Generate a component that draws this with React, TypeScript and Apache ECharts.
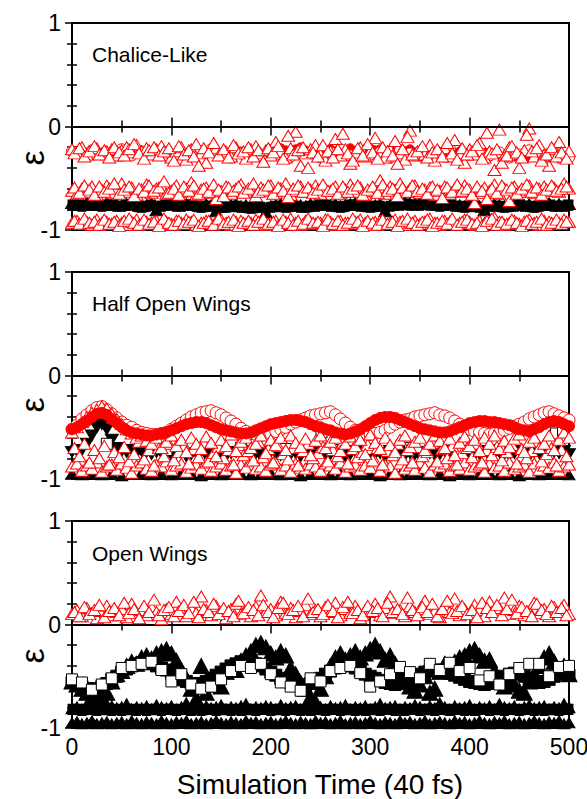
import React, { useEffect, useRef } from "react";
import * as echarts from "echarts";

// sampling times (40 fs units)
const times: number[] = Array.from({ length: 101 }, (_, i) => i * 5);
const timesHalf: number[] = Array.from({ length: 100 }, (_, i) => 2.5 + i * 5);
const times10: number[] = Array.from({ length: 51 }, (_, i) => i * 10);

const panelTitles = ["Chalice-Like", "Half Open Wings", "Open Wings"];
const xTicks = [0, 100, 200, 300, 400, 500];
const yTicks = [-1, 0, 1];

// ---------- Panel 1: Chalice-Like ----------
const p1UpperTri = [
  -0.22,-0.25,-0.20,-0.27,-0.23,-0.21,-0.26,-0.24,-0.22,-0.28,
  -0.23,-0.20,-0.25,-0.18,-0.24,-0.21,-0.27,-0.22,-0.19,-0.25,
  -0.30,-0.24,-0.20,-0.32,-0.22,-0.17,-0.26,-0.35,-0.23,-0.21,
  -0.27,-0.24,-0.29,-0.20,-0.25,-0.31,-0.22,-0.19,-0.26,-0.23,
  -0.28,-0.15,-0.24,-0.30,-0.21,-0.05,-0.38,-0.26,-0.22,-0.18,
  -0.27,-0.33,-0.24,-0.12,-0.28,-0.22,-0.36,-0.25,-0.20,-0.29,
  -0.24,-0.11,-0.27,-0.30,-0.22,-0.14,-0.26,-0.32,-0.04,-0.28,
  -0.23,-0.27,-0.18,-0.33,-0.25,-0.21,-0.29,-0.13,-0.26,-0.35,
  -0.22,-0.27,-0.16,-0.30,-0.24,-0.42,-0.03,-0.28,-0.20,-0.26,
  -0.40,-0.23,-0.02,-0.29,-0.18,-0.27,-0.38,-0.22,-0.15,-0.30,-0.24,
];
const p1UpperTri2 = [
  -0.26,-0.21,-0.29,-0.24,-0.19,-0.27,-0.23,-0.30,-0.20,-0.25,
  -0.28,-0.22,-0.17,-0.26,-0.31,-0.23,-0.20,-0.28,-0.24,-0.21,
  -0.33,-0.19,-0.27,-0.23,-0.29,-0.38,-0.21,-0.25,-0.16,-0.28,
  -0.22,-0.30,-0.18,-0.26,-0.24,-0.20,-0.29,-0.23,-0.34,-0.21,
  -0.25,-0.19,-0.31,-0.09,-0.27,-0.23,-0.20,-0.40,-0.25,-0.29,
  -0.18,-0.24,-0.30,-0.22,-0.07,-0.26,-0.33,-0.21,-0.28,-0.17,
  -0.25,-0.31,-0.20,-0.24,-0.28,-0.36,-0.22,-0.10,-0.27,-0.24,
  -0.19,-0.30,-0.25,-0.22,-0.29,-0.16,-0.26,-0.32,-0.21,-0.27,
  -0.24,-0.18,-0.31,-0.06,-0.26,-0.22,-0.35,-0.28,-0.19,-0.25,
  -0.30,-0.08,-0.24,-0.21,-0.33,-0.27,-0.20,-0.29,-0.25,-0.31,
];
const p1CircOpen = [
  -0.24,-0.26,-0.23,-0.27,-0.25,-0.22,-0.28,-0.24,-0.26,-0.23,
  -0.27,-0.25,-0.29,-0.24,-0.22,-0.27,-0.30,-0.26,-0.25,-0.28,
  -0.24,-0.27,-0.29,-0.23,-0.26,-0.30,-0.25,-0.22,-0.28,-0.24,
  -0.27,-0.25,-0.30,-0.23,-0.26,-0.28,-0.24,-0.27,-0.21,-0.29,
  -0.26,-0.24,-0.28,-0.25,-0.30,-0.27,-0.23,-0.26,-0.29,-0.27,-0.30,
];
// filled red circles, from t = 200 on
const p1CircFilled = [
  -0.22,-0.24,-0.21,-0.23,-0.25,-0.22,-0.20,-0.23,-0.24,-0.21,
  -0.23,-0.25,-0.22,-0.24,-0.26,-0.23,-0.21,-0.24,-0.25,-0.22,
  -0.21,-0.23,-0.22,-0.24,-0.25,-0.23,-0.26,-0.24,-0.22,-0.25,
  -0.27,-0.25,-0.24,-0.26,-0.28,-0.25,-0.27,-0.26,-0.24,-0.27,
  -0.28,-0.26,-0.27,-0.25,-0.29,-0.27,-0.26,-0.28,-0.27,-0.29,
  -0.28,-0.26,-0.29,-0.27,-0.28,-0.30,-0.28,-0.29,-0.27,-0.30,-0.29,
];
const p1MidTri = [
  -0.62,-0.65,-0.60,-0.63,-0.58,-0.66,-0.61,-0.57,-0.64,-0.60,
  -0.55,-0.63,-0.59,-0.66,-0.61,-0.56,-0.64,-0.60,-0.58,-0.65,
  -0.62,-0.57,-0.63,-0.60,-0.54,-0.66,-0.61,-0.59,-0.64,-0.70,
  -0.62,-0.58,-0.65,-0.60,-0.56,-0.63,-0.61,-0.67,-0.59,-0.62,
  -0.57,-0.64,-0.60,-0.55,-0.66,-0.62,-0.58,-0.63,-0.61,-0.57,
  -0.65,-0.60,-0.62,-0.58,-0.64,-0.61,-0.56,-0.63,-0.59,-0.66,
  -0.62,-0.60,-0.52,-0.65,-0.58,-0.61,-0.55,-0.63,-0.60,-0.57,
  -0.64,-0.61,-0.59,-0.66,-0.62,-0.58,-0.65,-0.60,-0.63,-0.57,
  -0.61,-0.74,-0.64,-0.59,-0.62,-0.56,-0.65,-0.60,-0.72,-0.58,
  -0.63,-0.61,-0.57,-0.64,-0.60,-0.58,-0.62,-0.59,-0.63,-0.55,-0.60,
];
const p1MidTri2 = [
  -0.59,-0.64,-0.57,-0.61,-0.66,-0.58,-0.63,-0.60,-0.55,-0.65,
  -0.61,-0.58,-0.67,-0.60,-0.63,-0.57,-0.62,-0.59,-0.53,-0.64,
  -0.60,-0.66,-0.58,-0.62,-0.57,-0.65,-0.60,-0.63,-0.56,-0.61,
  -0.67,-0.59,-0.62,-0.58,-0.64,-0.60,-0.55,-0.63,-0.61,-0.57,
  -0.65,-0.59,-0.62,-0.68,-0.60,-0.57,-0.63,-0.59,-0.64,-0.61,
  -0.56,-0.62,-0.60,-0.65,-0.58,-0.63,-0.60,-0.57,-0.66,-0.61,
  -0.58,-0.64,-0.56,-0.62,-0.60,-0.67,-0.59,-0.63,-0.57,-0.62,
  -0.60,-0.65,-0.58,-0.61,-0.69,-0.59,-0.63,-0.56,-0.62,-0.60,
  -0.66,-0.58,-0.62,-0.70,-0.60,-0.64,-0.57,-0.61,-0.59,-0.65,
  -0.60,-0.56,-0.63,-0.59,-0.66,-0.61,-0.57,-0.62,-0.60,-0.58,
];
const p1Black = [
  -0.74,-0.75,-0.76,-0.74,-0.75,-0.76,-0.75,-0.74,-0.76,-0.75,
  -0.76,-0.75,-0.74,-0.75,-0.77,-0.76,-0.75,-0.81,-0.76,-0.75,
  -0.74,-0.75,-0.76,-0.75,-0.74,-0.76,-0.77,-0.75,-0.76,-0.82,
  -0.76,-0.77,-0.76,-0.75,-0.77,-0.76,-0.78,-0.77,-0.76,-0.83,
  -0.77,-0.76,-0.75,-0.77,-0.76,-0.75,-0.76,-0.77,-0.75,-0.76,
  -0.75,-0.74,-0.76,-0.75,-0.77,-0.76,-0.75,-0.74,-0.76,-0.75,
  -0.77,-0.76,-0.75,-0.82,-0.76,-0.74,-0.75,-0.73,-0.74,-0.75,
  -0.74,-0.73,-0.75,-0.74,-0.76,-0.75,-0.74,-0.75,-0.76,-0.77,
  -0.75,-0.76,-0.77,-0.81,-0.76,-0.75,-0.76,-0.77,-0.76,-0.75,
  -0.74,-0.76,-0.75,-0.77,-0.76,-0.75,-0.74,-0.76,-0.75,-0.76,-0.75,
];
const p1BlackSq = [
  -0.76,-0.76,-0.77,-0.76,-0.75,-0.76,-0.77,-0.76,-0.76,-0.77,
  -0.77,-0.76,-0.76,-0.77,-0.78,-0.77,-0.76,-0.77,-0.77,-0.76,
  -0.76,-0.77,-0.77,-0.76,-0.76,-0.77,-0.78,-0.77,-0.77,-0.78,
  -0.78,-0.78,-0.77,-0.77,-0.78,-0.78,-0.79,-0.78,-0.78,-0.79,
  -0.78,-0.77,-0.77,-0.78,-0.77,-0.77,-0.78,-0.78,-0.77,-0.77,
  -0.76,-0.76,-0.77,-0.77,-0.78,-0.77,-0.76,-0.76,-0.77,-0.77,
  -0.78,-0.77,-0.77,-0.78,-0.77,-0.76,-0.76,-0.75,-0.76,-0.76,
  -0.76,-0.75,-0.76,-0.76,-0.77,-0.76,-0.76,-0.77,-0.77,-0.78,
  -0.77,-0.77,-0.78,-0.79,-0.77,-0.77,-0.77,-0.78,-0.77,-0.77,
  -0.76,-0.77,-0.77,-0.78,-0.77,-0.76,-0.76,-0.77,-0.77,-0.77,-0.76,
];
const p1LowTri = [
  -0.93,-0.91,-0.94,-0.92,-0.95,-0.90,-0.93,-0.92,-0.94,-0.91,
  -0.93,-0.95,-0.92,-0.90,-0.94,-0.92,-0.93,-0.91,-0.95,-0.92,
  -0.94,-0.91,-0.93,-0.90,-0.92,-0.95,-0.93,-0.91,-0.94,-0.92,
  -0.90,-0.93,-0.95,-0.92,-0.91,-0.94,-0.93,-0.90,-0.92,-0.95,
  -0.93,-0.91,-0.94,-0.92,-0.89,-0.93,-0.95,-0.91,-0.92,-0.94,
  -0.93,-0.90,-0.92,-0.95,-0.91,-0.93,-0.94,-0.92,-0.90,-0.93,
  -0.95,-0.92,-0.91,-0.94,-0.93,-0.90,-0.92,-0.95,-0.93,-0.91,
  -0.94,-0.92,-0.89,-0.93,-0.95,-0.91,-0.92,-0.94,-0.93,-0.90,
  -0.92,-0.95,-0.91,-0.93,-0.94,-0.88,-0.92,-0.95,-0.93,-0.91,
  -0.94,-0.92,-0.90,-0.93,-0.95,-0.91,-0.92,-0.94,-0.93,-0.90,-0.92,
];
const p1LowTri2 = [
  -0.91,-0.94,-0.89,-0.93,-0.92,-0.95,-0.90,-0.94,-0.92,-0.96,
  -0.91,-0.89,-0.93,-0.95,-0.90,-0.94,-0.92,-0.96,-0.89,-0.93,
  -0.95,-0.91,-0.94,-0.92,-0.90,-0.96,-0.93,-0.91,-0.95,-0.89,
  -0.94,-0.92,-0.90,-0.96,-0.93,-0.91,-0.95,-0.92,-0.89,-0.94,
  -0.92,-0.96,-0.90,-0.93,-0.95,-0.91,-0.94,-0.89,-0.93,-0.92,
  -0.96,-0.90,-0.94,-0.91,-0.95,-0.93,-0.89,-0.92,-0.96,-0.91,
  -0.93,-0.95,-0.90,-0.94,-0.92,-0.96,-0.91,-0.89,-0.93,-0.95,
  -0.92,-0.90,-0.96,-0.93,-0.91,-0.94,-0.89,-0.95,-0.92,-0.90,
  -0.94,-0.93,-0.96,-0.91,-0.89,-0.95,-0.92,-0.94,-0.90,-0.93,
  -0.96,-0.91,-0.94,-0.92,-0.89,-0.95,-0.93,-0.90,-0.94,-0.92,
];

// ---------- Panel 2: Half Open Wings ----------
const p2CircOpen = [
  -0.52,-0.48,-0.42,-0.38,-0.34,-0.31,-0.30,-0.33,-0.37,-0.41,
  -0.45,-0.48,-0.50,-0.53,-0.55,-0.56,-0.57,-0.57,-0.56,-0.55,
  -0.52,-0.49,-0.46,-0.43,-0.40,-0.38,-0.36,-0.35,-0.34,-0.36,
  -0.38,-0.41,-0.44,-0.47,-0.51,-0.54,-0.56,-0.57,-0.58,-0.57,
  -0.56,-0.54,-0.52,-0.50,-0.47,-0.45,-0.43,-0.41,-0.39,-0.38,
  -0.37,-0.36,-0.35,-0.38,-0.42,-0.46,-0.50,-0.53,-0.55,-0.56,
  -0.57,-0.56,-0.55,-0.53,-0.50,-0.47,-0.45,-0.43,-0.42,-0.40,
  -0.39,-0.38,-0.37,-0.36,-0.38,-0.39,-0.41,-0.44,-0.47,-0.50,
  -0.52,-0.54,-0.55,-0.56,-0.57,-0.56,-0.55,-0.53,-0.51,-0.49,
  -0.47,-0.45,-0.42,-0.40,-0.38,-0.36,-0.35,-0.37,-0.39,-0.41,-0.43,
];
const p2CircFilled = [
  -0.52,-0.50,-0.47,-0.44,-0.40,-0.37,-0.36,-0.38,-0.42,-0.46,
  -0.50,-0.53,-0.55,-0.56,-0.57,-0.58,-0.58,-0.57,-0.56,-0.55,
  -0.53,-0.51,-0.49,-0.47,-0.46,-0.45,-0.45,-0.46,-0.48,-0.50,
  -0.52,-0.53,-0.54,-0.55,-0.56,-0.56,-0.55,-0.53,-0.51,-0.49,
  -0.47,-0.46,-0.45,-0.44,-0.43,-0.43,-0.44,-0.45,-0.47,-0.49,
  -0.50,-0.52,-0.53,-0.55,-0.56,-0.57,-0.56,-0.54,-0.52,-0.49,
  -0.46,-0.43,-0.41,-0.40,-0.40,-0.41,-0.43,-0.45,-0.47,-0.49,
  -0.51,-0.52,-0.53,-0.54,-0.55,-0.55,-0.54,-0.52,-0.50,-0.48,
  -0.46,-0.45,-0.44,-0.44,-0.45,-0.45,-0.46,-0.47,-0.48,-0.50,
  -0.52,-0.53,-0.54,-0.52,-0.50,-0.47,-0.45,-0.44,-0.45,-0.47,-0.49,
];
const p2UpperTri = [
  -0.55,-0.50,-0.45,-0.40,-0.36,-0.33,-0.30,-0.32,-0.37,-0.42,
  -0.47,-0.52,-0.56,-0.60,-0.58,-0.63,-0.66,-0.60,-0.70,-0.64,
  -0.58,-0.68,-0.62,-0.74,-0.60,-0.66,-0.71,-0.59,-0.65,-0.78,
  -0.62,-0.68,-0.57,-0.73,-0.64,-0.60,-0.70,-0.66,-0.58,-0.75,
  -0.62,-0.67,-0.60,-0.72,-0.58,-0.65,-0.69,-0.61,-0.77,-0.63,
  -0.58,-0.70,-0.64,-0.60,-0.73,-0.66,-0.59,-0.68,-0.62,-0.76,
  -0.57,-0.65,-0.71,-0.60,-0.67,-0.74,-0.62,-0.58,-0.69,-0.64,
  -0.60,-0.72,-0.66,-0.58,-0.63,-0.70,-0.61,-0.77,-0.65,-0.59,
  -0.68,-0.62,-0.73,-0.60,-0.66,-0.58,-0.71,-0.63,-0.69,-0.61,
  -0.57,-0.74,-0.64,-0.60,-0.70,-0.66,-0.58,-0.72,-0.62,-0.55,-0.60,
];
const p2MidTri2 = [
  -0.70,-0.78,-0.66,-0.84,-0.72,-0.80,-0.68,-0.86,-0.74,-0.79,
  -0.69,-0.83,-0.76,-0.64,-0.81,-0.72,-0.87,-0.70,-0.78,-0.66,
  -0.82,-0.74,-0.68,-0.85,-0.71,-0.79,-0.65,-0.83,-0.75,-0.69,
  -0.80,-0.72,-0.86,-0.67,-0.77,-0.73,-0.82,-0.64,-0.79,-0.71,
  -0.84,-0.68,-0.76,-0.81,-0.70,-0.87,-0.73,-0.66,-0.80,-0.75,
  -0.69,-0.83,-0.72,-0.78,-0.65,-0.85,-0.71,-0.79,-0.74,-0.67,
  -0.82,-0.70,-0.86,-0.73,-0.77,-0.66,-0.81,-0.72,-0.84,-0.69,
  -0.78,-0.74,-0.65,-0.83,-0.71,-0.80,-0.68,-0.86,-0.75,-0.70,
  -0.79,-0.66,-0.84,-0.72,-0.77,-0.69,-0.82,-0.74,-0.67,-0.85,
  -0.71,-0.80,-0.73,-0.64,-0.83,-0.76,-0.70,-0.87,-0.72,-0.78,
];
const p2Black = [
  -0.74,-0.73,-0.72,-0.66,-0.58,-0.50,-0.47,-0.52,-0.62,-0.70,
  -0.73,-0.74,-0.72,-0.75,-0.73,-0.74,-0.76,-0.74,-0.75,-0.73,
  -0.77,-0.75,-0.74,-0.78,-0.76,-0.75,-0.73,-0.77,-0.75,-0.74,
  -0.76,-0.78,-0.75,-0.74,-0.77,-0.76,-0.73,-0.75,-0.78,-0.76,
  -0.74,-0.75,-0.77,-0.73,-0.76,-0.75,-0.78,-0.74,-0.76,-0.75,
  -0.73,-0.77,-0.76,-0.74,-0.75,-0.78,-0.76,-0.73,-0.75,-0.77,
  -0.74,-0.76,-0.75,-0.78,-0.73,-0.76,-0.74,-0.77,-0.75,-0.76,
  -0.78,-0.74,-0.75,-0.77,-0.76,-0.73,-0.75,-0.78,-0.76,-0.74,
  -0.75,-0.77,-0.76,-0.73,-0.78,-0.75,-0.74,-0.76,-0.77,-0.75,
  -0.73,-0.76,-0.78,-0.74,-0.75,-0.77,-0.76,-0.74,-0.75,-0.73,-0.76,
];
const p2BlackLow = [
  -0.95,-0.96,-0.94,-0.96,-0.95,-0.97,-0.95,-0.94,-0.96,-0.95,
  -0.96,-0.94,-0.95,-0.97,-0.95,-0.96,-0.94,-0.95,-0.96,-0.95,
  -0.94,-0.96,-0.95,-0.97,-0.95,-0.94,-0.96,-0.95,-0.96,-0.94,
  -0.95,-0.97,-0.95,-0.96,-0.94,-0.95,-0.96,-0.95,-0.97,-0.94,
  -0.96,-0.95,-0.94,-0.96,-0.95,-0.97,-0.95,-0.96,-0.94,-0.95,-0.96,
];
const p2LowTri = [
  -0.88,-0.85,-0.92,-0.87,-0.90,-0.84,-0.93,-0.88,-0.86,-0.91,
  -0.85,-0.89,-0.94,-0.87,-0.84,-0.90,-0.92,-0.86,-0.88,-0.83,
  -0.91,-0.87,-0.85,-0.93,-0.89,-0.86,-0.90,-0.84,-0.92,-0.88,
  -0.85,-0.91,-0.87,-0.94,-0.86,-0.89,-0.83,-0.90,-0.88,-0.92,
  -0.86,-0.84,-0.91,-0.87,-0.93,-0.85,-0.89,-0.90,-0.86,-0.88,
  -0.92,-0.85,-0.87,-0.90,-0.84,-0.93,-0.88,-0.86,-0.91,-0.87,
  -0.89,-0.83,-0.92,-0.86,-0.88,-0.94,-0.85,-0.90,-0.87,-0.91,
  -0.84,-0.89,-0.93,-0.86,-0.88,-0.85,-0.92,-0.87,-0.90,-0.84,
  -0.91,-0.88,-0.86,-0.93,-0.85,-0.89,-0.87,-0.92,-0.84,-0.90,
  -0.88,-0.86,-0.93,-0.85,-0.91,-0.87,-0.89,-0.84,-0.92,-0.88,-0.86,
];
const p2SqTimes = [35, 95, 170, 215, 251, 262, 300, 340, 388, 430, 487, 494];
const p2SqValues = [-0.66, -0.72, -0.70, -0.71, -0.55, -0.72, -0.71, -0.70, -0.73, -0.72, -0.56, -0.54];

// ---------- Panel 3: Open Wings ----------
const p3RedTri = [
  0.10,0.14,0.08,0.16,0.11,0.06,0.13,0.18,0.09,0.12,
  0.15,0.07,0.20,0.11,0.14,0.09,0.17,0.12,0.05,0.15,
  0.10,0.22,0.13,0.08,0.16,0.11,0.27,0.14,0.09,0.18,
  0.12,0.06,0.15,0.20,0.10,0.13,0.08,0.17,0.28,0.12,
  0.15,0.09,0.22,0.11,0.16,0.07,0.13,0.19,0.10,0.14,
  0.08,0.17,0.12,0.21,0.09,0.15,0.11,0.18,0.06,0.14,
  0.12,0.20,0.09,0.16,0.27,0.11,0.14,0.08,0.18,0.12,
  0.15,0.23,0.10,0.13,0.07,0.17,0.12,0.25,0.09,0.15,
  0.11,0.19,0.14,0.08,0.22,0.12,0.16,0.26,0.10,0.14,
  0.18,0.09,0.13,0.21,0.11,0.15,0.08,0.17,0.12,0.19,0.10,
];
const p3RedTri2 = [
  0.12,0.08,0.17,0.10,0.14,0.19,0.07,0.13,0.16,0.09,
  0.21,0.11,0.15,0.06,0.18,0.12,0.24,0.09,0.14,0.17,
  0.08,0.13,0.19,0.11,0.22,0.07,0.15,0.12,0.20,0.10,
  0.16,0.13,0.08,0.23,0.11,0.17,0.14,0.09,0.19,0.12,
  0.07,0.16,0.21,0.10,0.14,0.18,0.08,0.25,0.12,0.15,
  0.10,0.19,0.13,0.07,0.17,0.22,0.11,0.14,0.09,0.18,
  0.13,0.16,0.08,0.21,0.12,0.15,0.10,0.26,0.14,0.09,
  0.17,0.12,0.20,0.08,0.15,0.23,0.11,0.13,0.18,0.10,
  0.14,0.07,0.21,0.16,0.12,0.19,0.09,0.15,0.24,0.11,
  0.17,0.13,0.08,0.20,0.14,0.10,0.18,0.12,0.16,0.09,
];
const p3TriUp = [
  -0.55,-0.58,-0.62,-0.66,-0.70,-0.68,-0.70,-0.66,-0.55,-0.48,
  -0.45,-0.40,-0.36,-0.38,-0.32,-0.30,-0.33,-0.28,-0.26,-0.24,
  -0.28,-0.35,-0.44,-0.52,-0.62,-0.72,-0.40,-0.66,-0.58,-0.52,
  -0.60,-0.46,-0.40,-0.44,-0.35,-0.30,-0.26,-0.20,-0.18,-0.22,
  -0.28,-0.32,-0.26,-0.30,-0.42,-0.48,-0.56,-0.62,-0.70,-0.75,
  -0.62,-0.50,-0.40,-0.32,-0.28,-0.34,-0.30,-0.26,-0.32,-0.28,
  -0.24,-0.20,-0.26,-0.34,-0.30,-0.38,-0.46,-0.55,-0.60,-0.64,
  -0.58,-0.50,-0.66,-0.62,-0.46,-0.38,-0.42,-0.36,-0.32,-0.30,
  -0.26,-0.24,-0.30,-0.35,-0.34,-0.45,-0.55,-0.60,-0.52,-0.58,
  -0.64,-0.66,-0.55,-0.48,-0.40,-0.32,-0.28,-0.36,-0.44,-0.40,-0.48,
];
const p3SqFilled = [
  -0.56,-0.58,-0.60,-0.62,-0.63,-0.62,-0.60,-0.57,-0.53,-0.50,
  -0.46,-0.43,-0.40,-0.38,-0.37,-0.36,-0.38,-0.40,-0.42,-0.44,
  -0.47,-0.50,-0.53,-0.55,-0.57,-0.58,-0.57,-0.55,-0.52,-0.49,
  -0.46,-0.43,-0.40,-0.38,-0.36,-0.35,-0.36,-0.38,-0.40,-0.43,
  -0.46,-0.49,-0.52,-0.54,-0.56,-0.57,-0.58,-0.58,-0.57,-0.55,
  -0.52,-0.48,-0.45,-0.42,-0.40,-0.39,-0.40,-0.42,-0.45,-0.48,
  -0.50,-0.52,-0.54,-0.56,-0.57,-0.58,-0.57,-0.55,-0.53,-0.50,
  -0.48,-0.46,-0.45,-0.44,-0.44,-0.45,-0.47,-0.49,-0.51,-0.53,
  -0.55,-0.56,-0.57,-0.58,-0.57,-0.55,-0.52,-0.50,-0.48,-0.47,
  -0.48,-0.50,-0.53,-0.55,-0.56,-0.55,-0.53,-0.50,-0.48,-0.47,-0.49,
];
const p3SqOpen = [
  -0.53,-0.56,-0.63,-0.58,-0.52,-0.42,-0.40,-0.38,-0.36,-0.44,
  -0.55,-0.48,-0.58,-0.62,-0.60,-0.53,-0.45,-0.40,-0.42,-0.38,
  -0.48,-0.56,-0.60,-0.64,-0.52,-0.55,-0.45,-0.42,-0.40,-0.47,
  -0.60,-0.55,-0.48,-0.41,-0.46,-0.52,-0.38,-0.44,-0.37,-0.45,
  -0.42,-0.54,-0.50,-0.58,-0.48,-0.42,-0.38,-0.38,-0.50,-0.41,-0.40,
];
const p3BandA = [
  -0.81,-0.80,-0.82,-0.79,-0.81,-0.78,-0.82,-0.80,-0.79,-0.81,
  -0.80,-0.77,-0.82,-0.80,-0.81,-0.79,-0.82,-0.78,-0.80,-0.81,
  -0.79,-0.82,-0.80,-0.76,-0.81,-0.80,-0.82,-0.79,-0.81,-0.80,
  -0.78,-0.82,-0.80,-0.81,-0.79,-0.77,-0.82,-0.80,-0.81,-0.79,
  -0.80,-0.82,-0.78,-0.81,-0.80,-0.79,-0.82,-0.80,-0.76,-0.81,
  -0.80,-0.82,-0.79,-0.81,-0.80,-0.78,-0.82,-0.80,-0.81,-0.79,
  -0.82,-0.80,-0.77,-0.81,-0.80,-0.79,-0.82,-0.80,-0.81,-0.78,
  -0.80,-0.82,-0.79,-0.81,-0.76,-0.80,-0.82,-0.79,-0.81,-0.80,
  -0.78,-0.82,-0.80,-0.81,-0.79,-0.82,-0.77,-0.80,-0.81,-0.79,
  -0.82,-0.80,-0.78,-0.81,-0.80,-0.79,-0.82,-0.80,-0.81,-0.77,-0.80,
];
const p3BandASq = [
  -0.82,-0.82,-0.83,-0.82,-0.82,-0.83,-0.82,-0.82,-0.83,-0.82,
  -0.83,-0.82,-0.82,-0.83,-0.82,-0.83,-0.82,-0.82,-0.83,-0.82,
  -0.82,-0.83,-0.82,-0.82,-0.83,-0.82,-0.83,-0.82,-0.82,-0.83,
  -0.82,-0.82,-0.83,-0.82,-0.83,-0.82,-0.82,-0.83,-0.82,-0.82,
  -0.83,-0.82,-0.82,-0.83,-0.82,-0.82,-0.83,-0.82,-0.83,-0.82,
  -0.82,-0.83,-0.82,-0.82,-0.83,-0.82,-0.82,-0.83,-0.82,-0.83,
  -0.82,-0.82,-0.83,-0.82,-0.82,-0.83,-0.82,-0.83,-0.82,-0.82,
  -0.83,-0.82,-0.82,-0.83,-0.82,-0.82,-0.83,-0.82,-0.82,-0.83,
  -0.82,-0.83,-0.82,-0.82,-0.83,-0.82,-0.82,-0.83,-0.82,-0.82,
  -0.83,-0.82,-0.82,-0.83,-0.82,-0.83,-0.82,-0.82,-0.83,-0.82,-0.82,
];
const p3BandB = [
  -0.95,-0.94,-0.96,-0.95,-0.93,-0.96,-0.95,-0.94,-0.96,-0.95,
  -0.94,-0.96,-0.93,-0.95,-0.96,-0.94,-0.95,-0.96,-0.93,-0.95,
  -0.96,-0.94,-0.95,-0.93,-0.96,-0.95,-0.94,-0.96,-0.95,-0.93,
  -0.95,-0.96,-0.94,-0.95,-0.96,-0.93,-0.95,-0.94,-0.96,-0.95,
  -0.94,-0.96,-0.95,-0.93,-0.95,-0.96,-0.94,-0.95,-0.96,-0.93,
  -0.95,-0.94,-0.96,-0.95,-0.93,-0.96,-0.95,-0.94,-0.96,-0.95,
  -0.93,-0.95,-0.96,-0.94,-0.95,-0.96,-0.93,-0.95,-0.94,-0.96,
  -0.95,-0.93,-0.96,-0.95,-0.94,-0.95,-0.96,-0.93,-0.95,-0.94,
  -0.96,-0.95,-0.93,-0.95,-0.96,-0.94,-0.95,-0.93,-0.96,-0.95,
  -0.94,-0.96,-0.95,-0.93,-0.95,-0.96,-0.94,-0.95,-0.93,-0.96,-0.95,
];

const FONT = "'Liberation Sans', Arial, sans-serif";
const RED = "#ff0000";
const BLACK = "#000000";

const GRID_LEFT = 72;
const GRID_RIGHT = 18;
const GRID_TOPS = [23, 272, 521];
const GRID_H = 207;

function sc(
  g: number,
  xs: number[],
  ys: number[],
  symbol: string,
  size: number | number[],
  fill: string,
  stroke: string,
  rotate = 0,
  z = 2
) {
  return {
    type: "scatter",
    xAxisIndex: g * 2,
    yAxisIndex: g * 2,
    data: ys.map((v, i) => [xs[i], v]),
    symbol,
    symbolSize: size,
    symbolRotate: rotate,
    itemStyle: { color: fill, borderColor: stroke, borderWidth: 1, opacity: 1 },
    z,
    silent: true,
    clip: true,
  };
}

export default function App() {
  const ref = useRef<HTMLDivElement>(null);
  useEffect(() => {
    if (!ref.current) return;
    const chart = echarts.init(ref.current, null, { renderer: "svg" });
    const grids = GRID_TOPS.map((t) => ({
      left: GRID_LEFT,
      right: GRID_RIGHT,
      top: t,
      height: GRID_H,
      show: true,
      borderColor: BLACK,
      borderWidth: 2,
      backgroundColor: "transparent",
      containLabel: false,
      outerBoundsMode: "none",
    }));
    const tickStyle = { color: BLACK, width: 1.5 };
    const xAxes: any[] = [];
    const yAxes: any[] = [];
    GRID_TOPS.forEach((_, g) => {
      const xBase = {
        gridIndex: g,
        type: "value",
        min: xTicks[0],
        max: xTicks[xTicks.length - 1],
        interval: 100,
        axisLine: { show: false },
        splitLine: { show: false },
        axisTick: { show: true, inside: true, length: 9, lineStyle: tickStyle },
        minorTick: { show: true, splitNumber: 2, length: 6, lineStyle: tickStyle },
      };
      xAxes.push({
        ...xBase,
        position: "bottom",
        axisLabel: {
          show: g === 2,
          fontSize: 23,
          color: BLACK,
          fontFamily: FONT,
          margin: 7,
        },
      });
      xAxes.push({ ...xBase, position: "top", axisLabel: { show: false } });
      const yBase = {
        gridIndex: g,
        type: "value",
        min: yTicks[0],
        max: yTicks[yTicks.length - 1],
        interval: 1,
        axisLine: { show: false },
        splitLine: { show: false },
        axisTick: { show: true, inside: true, length: 7, lineStyle: tickStyle },
        minorTick: { show: true, splitNumber: 5, length: 5, lineStyle: tickStyle },
      };
      yAxes.push({
        ...yBase,
        position: "left",
        axisLabel: {
          show: true,
          fontSize: 23,
          color: BLACK,
          fontFamily: FONT,
          margin: 11,
        },
      });
      yAxes.push({ ...yBase, position: "right", axisLabel: { show: false } });
    });

    const zeroLine = (g: number) => ({
      type: "scatter",
      xAxisIndex: g * 2,
      yAxisIndex: g * 2,
      data: [],
      silent: true,
      z: 10,
      markLine: {
        silent: true,
        symbol: ["none", "none"],
        label: { show: false },
        lineStyle: { color: BLACK, width: 2, type: "solid" },
        data: [{ yAxis: 0 }],
        animation: false,
      },
    });

    const TRI: number[] = [13, 11];
    const series: any[] = [
      // Panel 1
      sc(0, times, p1BlackSq, "rect", [8, 10], BLACK, BLACK, 0, 2),
      sc(0, times, p1Black, "triangle", [13, 11], BLACK, BLACK, 0, 2),
      sc(0, times, p1LowTri, "triangle", TRI, "#fff", RED, 0, 3),
      sc(0, timesHalf, p1LowTri2, "triangle", TRI, "#fff", RED, 0, 3),
      sc(0, times, p1MidTri, "triangle", TRI, "#fff", RED, 0, 3),
      sc(0, timesHalf, p1MidTri2, "triangle", TRI, "#fff", RED, 0, 3),
      sc(0, times.slice(40), p1CircFilled, "circle", 9, RED, RED, 0, 3),
      sc(0, times10, p1CircOpen, "circle", 11, "#fff", RED, 0, 3),
      sc(0, times, p1UpperTri, "triangle", TRI, "#fff", RED, 0, 4),
      sc(0, timesHalf, p1UpperTri2, "triangle", TRI, "#fff", RED, 0, 4),
      zeroLine(0),
      // Panel 2
      sc(1, times10, p2BlackLow, "triangle", [12, 10], BLACK, BLACK, 0, 2),
      sc(1, times, p2Black, "triangle", [13, 11], BLACK, BLACK, 180, 2),
      sc(1, p2SqTimes, p2SqValues, "rect", 11, "#fff", BLACK, 0, 2),
      sc(1, times, p2CircOpen, "circle", 12, "#fff", RED, 0, 2),
      sc(1, times, p2LowTri, "triangle", TRI, "#fff", RED, 0, 3),
      sc(1, timesHalf, p2MidTri2, "triangle", TRI, "#fff", RED, 0, 3),
      sc(1, times, p2UpperTri, "triangle", TRI, "#fff", RED, 0, 3),
      sc(1, times, p2CircFilled, "circle", 11, RED, RED, 0, 4),
      zeroLine(1),
      // Panel 3
      sc(2, times, p3BandB, "triangle", [12, 10], BLACK, BLACK, 0, 2),
      sc(2, times, p3BandASq, "rect", [8, 10], BLACK, BLACK, 0, 2),
      sc(2, times, p3BandA, "triangle", [12, 11], BLACK, BLACK, 0, 2),
      sc(2, times, p3SqFilled, "rect", 12, BLACK, BLACK, 0, 3),
      sc(2, times, p3TriUp, "triangle", [16, 15], BLACK, BLACK, 0, 4),
      sc(2, times10, p3SqOpen, "rect", 11, "#fff", BLACK, 0, 5),
      sc(2, times, p3RedTri, "triangle", TRI, "#fff", RED, 0, 5),
      sc(2, timesHalf, p3RedTri2, "triangle", TRI, "#fff", RED, 0, 5),
      zeroLine(2),
    ];

    const titleY = [54, 303, 553];
    const epsY = [158, 405, 656];
    const graphic: any[] = [];
    panelTitles.forEach((t, i) => {
      graphic.push({
        type: "text",
        x: 92,
        y: titleY[i],
        style: {
          text: t,
          fontSize: 21,
          fontFamily: FONT,
          fill: BLACK,
          textAlign: "left",
          textVerticalAlign: "middle",
        },
        z: 20,
      });
      graphic.push({
        type: "text",
        x: 32,
        y: epsY[i],
        rotation: Math.PI / 2,
        style: {
          text: "ε",
          fontSize: 34,
          fontFamily: FONT,
          fill: BLACK,
          textAlign: "center",
          textVerticalAlign: "middle",
        },
        z: 20,
      });
    });
    graphic.push({
      type: "text",
      x: 320,
      y: 784,
      style: {
        text: "Simulation Time (40 fs)",
        fontSize: 28,
        fontFamily: FONT,
        fill: BLACK,
        textAlign: "center",
        textVerticalAlign: "middle",
      },
      z: 20,
    });

    chart.setOption({
      animation: false,
      backgroundColor: "#ffffff",
      grid: grids,
      xAxis: xAxes,
      yAxis: yAxes,
      series,
      graphic,
    });
    return () => chart.dispose();
  }, []);
  return (
    <div
      ref={ref}
      style={{ position: "fixed", left: 0, top: 0, width: 587, height: 799, background: "#fff" }}
    />
  );
}
